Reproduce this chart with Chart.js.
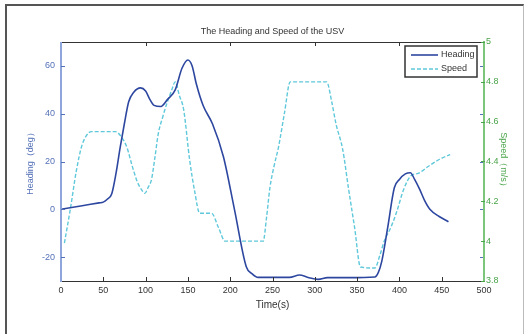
<!DOCTYPE html>
<html>
<head>
<meta charset="utf-8">
<script src="https://cdn.jsdelivr.net/npm/chart.js@4.4.0/dist/chart.umd.min.js"></script>
<style>
  html, body { margin: 0; padding: 0; background: #fff; }
  #wrap { position: relative; width: 528px; height: 334px; }
  #frame { position: absolute; left: 5px; top: 4px; width: 516px; height: 340px;
           border-left: 2px solid #555; border-top: 2px solid #555; border-right: 1px solid #bbb; }
  canvas { position: absolute; left: 0; top: 0; }
</style>
</head>
<body>
<div id="wrap">
  <div id="frame"></div>
  <canvas id="chart" width="528" height="334"></canvas>
</div>
<script>
/* Data */
var headingTime = [0, 25, 45, 50, 55, 60, 65, 70, 75, 80, 86, 94, 100, 105, 110, 118, 126, 135, 143, 150, 155, 160, 168, 179, 192, 205, 219, 226, 233, 250, 270, 282, 292, 304, 315, 340, 371, 375, 379, 386, 394, 400, 407, 413, 418, 424, 430, 436, 447, 458];
var headingDeg  = [0, 1.5, 2.7, 3, 4.3, 6.5, 15, 26, 36, 45, 49, 50.8, 49.5, 46, 43.5, 43, 46, 50, 59, 62.5, 60, 52.4, 43.4, 35.8, 22, 0, -24, -27, -28.5, -28.5, -28.5, -27.5, -28.5, -29.3, -28.6, -28.6, -28.3, -26.5, -22, -8, 9, 12.5, 14.8, 15.3, 12.5, 8.3, 3.5, 0, -3, -5.2];

var speedTime = [4, 11, 18, 24, 30, 36, 64, 72, 78, 84, 90, 95, 99, 103, 107, 111, 115, 120, 125, 131, 135, 140, 145, 152, 158, 164, 178, 186, 194, 239, 243, 247, 252, 257, 264, 271, 314, 320, 325, 333, 340, 347, 354, 371, 377, 382, 390, 397, 405, 414, 422, 434, 447, 460];
var speedMs   = [3.99, 4.16, 4.35, 4.47, 4.53, 4.55, 4.55, 4.52, 4.47, 4.38, 4.3, 4.26, 4.24, 4.27, 4.31, 4.42, 4.54, 4.62, 4.69, 4.76, 4.8, 4.73, 4.66, 4.41, 4.25, 4.14, 4.14, 4.07, 4.0, 4.0, 4.12, 4.27, 4.38, 4.47, 4.64, 4.8, 4.8, 4.7, 4.59, 4.46, 4.26, 4.07, 3.87, 3.865, 3.93, 4.0, 4.07, 4.15, 4.26, 4.33, 4.34, 4.375, 4.41, 4.435];

var xTicks = [0, 50, 100, 150, 200, 250, 300, 350, 400, 450, 500];
var topTicks = [100, 200, 300, 400];
var headingTicks = [-20, 0, 20, 40, 60];
var speedTicks = [3.8, 4, 4.2, 4.4, 4.6, 4.8, 5];

var titleText = "The Heading and Speed of the USV";

var FONT = "'Liberation Sans', Arial, sans-serif";
var headingColor = "#2d47a0";
var speedColor = "#5fc8da";
var leftAxisColor = "#8fa6dc";
var leftLabelColor = "#5572b8";
var rightAxisColor = "#7cc67c";
var rightLabelColor = "#4aa44a";

function pts(xs, ys){
  return xs.map(function(x, i){ return {x: x, y: ys[i]}; });
}

/* Frame, inward ticks, legend, title */
var matlabAxes = {
  id: 'matlabAxes',
  afterDraw: function(chart){
    var c = chart.ctx, a = chart.chartArea;
    var sx = chart.scales.x, yl = chart.scales.yH, yr = chart.scales.yS;
    c.save();
    c.lineWidth = 1;
    // top & bottom
    c.strokeStyle = "#333";
    c.beginPath();
    c.moveTo(a.left, a.top + 0.5); c.lineTo(a.right, a.top + 0.5);
    c.moveTo(a.left, a.bottom + 0.5); c.lineTo(a.right, a.bottom + 0.5);
    c.stroke();
    // bottom ticks
    c.beginPath();
    xTicks.forEach(function(v){
      var px = Math.round(sx.getPixelForValue(v)) + 0.5;
      c.moveTo(px, a.bottom); c.lineTo(px, a.bottom - 4);
    });
    topTicks.forEach(function(v){
      var px = Math.round(sx.getPixelForValue(v)) + 0.5;
      c.moveTo(px, a.top); c.lineTo(px, a.top + 4);
    });
    c.stroke();
    // left axis
    c.strokeStyle = leftAxisColor;
    c.lineWidth = 2;
    c.beginPath();
    c.moveTo(a.left, a.top); c.lineTo(a.left, a.bottom + 1);
    c.stroke();
    c.lineWidth = 1;
    c.strokeStyle = leftLabelColor;
    c.beginPath();
    headingTicks.forEach(function(v){
      var py = Math.round(yl.getPixelForValue(v)) + 0.5;
      c.moveTo(a.left, py); c.lineTo(a.left + 4, py);
      c.moveTo(a.right, py); c.lineTo(a.right - 4, py);
    });
    c.stroke();
    // right axis
    c.strokeStyle = rightAxisColor;
    c.lineWidth = 2;
    c.beginPath();
    c.moveTo(a.right, a.top - 1); c.lineTo(a.right, a.bottom + 1);
    c.stroke();
    c.lineWidth = 1;
    c.strokeStyle = rightLabelColor;
    c.beginPath();
    speedTicks.forEach(function(v){
      var py = Math.round(yr.getPixelForValue(v)) + 0.5;
      c.moveTo(a.right - 3, py); c.lineTo(a.right + 1, py);
    });
    c.stroke();

    // title
    c.fillStyle = "#333";
    c.font = "9px " + FONT;
    c.textAlign = "center";
    c.textBaseline = "middle";
    c.fillText(titleText, (a.left + a.right) / 2, 32);

    // legend
    var lx = 405, ly = 46, lw = 72, lh = 31;
    c.fillStyle = "#fff";
    c.fillRect(lx, ly, lw, lh);
    c.strokeStyle = "#333";
    c.lineWidth = 1.5;
    c.strokeRect(lx, ly, lw, lh);
    c.font = "9px " + FONT;
    c.textAlign = "left";
    chart.data.datasets.forEach(function(ds, i){
      var yy = ly + 9 + i * 14;
      c.strokeStyle = ds.borderColor;
      c.lineWidth = ds.borderWidth;
      c.setLineDash(ds.borderDash || []);
      c.beginPath();
      c.moveTo(lx + 6, yy); c.lineTo(lx + 33, yy);
      c.stroke();
      c.setLineDash([]);
      c.fillStyle = "#333";
      c.fillText(ds.label, lx + 36, yy);
    });
    c.restore();
  }
};

var ctx = document.getElementById('chart').getContext('2d');
var chart = new Chart(ctx, {
  type: 'line',
  data: {
    datasets: [{
      label: "Heading",
      data: pts(headingTime, headingDeg),
      yAxisID: 'yH',
      borderColor: headingColor,
      borderWidth: 1.6,
      pointRadius: 0,
      cubicInterpolationMode: 'monotone',
      fill: false
    }, {
      label: "Speed",
      data: pts(speedTime, speedMs),
      yAxisID: 'yS',
      borderColor: speedColor,
      borderWidth: 1.4,
      borderDash: [4, 2],
      pointRadius: 0,
      cubicInterpolationMode: 'monotone',
      fill: false
    }]
  },
  options: {
    responsive: false,
    animation: false,
    layout: { padding: { left: 23, right: 17, top: 42, bottom: 21 } },
    plugins: { legend: { display: false }, tooltip: { enabled: false }, title: { display: false } },
    scales: {
      x: {
        type: 'linear', min: 0, max: 500,
        afterBuildTicks: function(s){ s.ticks = xTicks.map(function(v){ return {value: v}; }); },
        afterFit: function(s){ s.height = 32; },
        grid: { display: false, drawTicks: false },
        border: { display: false },
        ticks: { color: "#333", font: { family: FONT, size: 9 }, padding: 4, maxRotation: 0 },
        title: { display: true, text: "Time(s)", color: "#333", font: { family: FONT, size: 10 }, padding: { top: 2, bottom: 2 } }
      },
      yH: {
        type: 'linear', position: 'left', min: -30, max: 70,
        afterBuildTicks: function(s){ s.ticks = headingTicks.map(function(v){ return {value: v}; }); },
        afterFit: function(s){ s.width = 38; },
        grid: { display: false, drawTicks: false },
        border: { display: false },
        ticks: { color: leftLabelColor, font: { family: FONT, size: 9 }, padding: 6 },
        title: { display: true, text: "Heading（deg）", color: leftLabelColor, font: { family: FONT, size: 9 }, padding: 2 }
      },
      yS: {
        type: 'linear', position: 'right', min: 3.8, max: 5,
        afterBuildTicks: function(s){ s.ticks = speedTicks.map(function(v){ return {value: v}; }); },
        afterFit: function(s){ s.width = 27; },
        grid: { display: false, drawTicks: false },
        border: { display: false },
        ticks: { color: rightLabelColor, font: { family: FONT, size: 9 }, padding: 2,
                 callback: function(v){ return Number(v.toFixed(1)).toString(); } },
        title: { display: true, text: "Speed（m/s）", color: rightLabelColor, font: { family: FONT, size: 9 }, padding: 2 }
      }
    }
  },
  plugins: [matlabAxes]
});
</script>
</body>
</html>
